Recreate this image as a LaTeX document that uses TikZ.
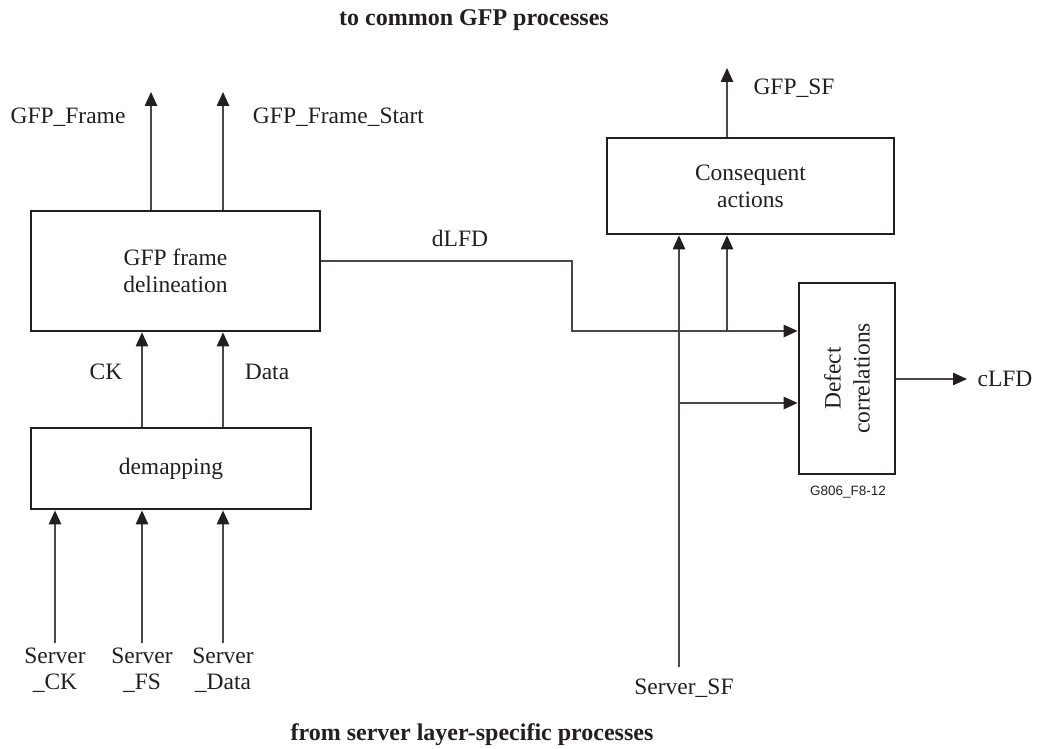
\documentclass[tikz,border=0pt]{standalone}
\usepackage{fontspec}
\setmainfont{Liberation Serif}
\newfontfamily\labelsans{Liberation Sans}
\usetikzlibrary{arrows.meta,calc}
\definecolor{ink}{RGB}{35,31,32}
\definecolor{wirec}{RGB}{75,70,70}
\begin{document}
\begin{tikzpicture}[x=1pt,y=-1pt,
  box/.style={draw=ink, line width=2.8pt, inner sep=0pt, align=center, text=ink, font=\fontsize{23.5}{27}\selectfont},
  lbl/.style={inner sep=0pt, align=center, text=ink, font=\fontsize{23.5}{26}\selectfont},
  ttl/.style={inner sep=0pt, text=ink, font=\fontsize{24}{28}\selectfont\bfseries},
  wire/.style={draw=wirec, line width=1.2pt},
  arr/.style={wire, -{Triangle[length=14pt,width=12.5pt,color=ink]}}]
\useasboundingbox (0,0) rectangle (1037,749);

% boxes
\node[box, minimum width=289pt, minimum height=120pt] (del) at (175.5,271) {GFP frame\\delineation};
\node[box, minimum width=280pt, minimum height=81pt] (dem) at (171,468.5) {demapping};
\node[box, minimum width=287pt, minimum height=96pt] (con) at (750.5,186) {Consequent\\actions};
\node[box, minimum width=96pt, minimum height=191pt] (def) at (847,378.5) {};
\node[lbl, rotate=90, font=\fontsize{23.5}{29}\selectfont] (deftxt) at (def.center) {Defect\\correlations};

% free ends and junctions
\coordinate (gfpf) at (151,92);
\coordinate (gfpfs) at (223,92);
\coordinate (sf) at (727,68);
\coordinate (clfd) at (967,379);
\coordinate (ckx) at (142,400);
\coordinate (datax) at (223,400);
\coordinate (sck) at (55,643);
\coordinate (sfs) at (142,643);
\coordinate (sdata) at (223,643);
\coordinate (ssf) at (679,667);
\coordinate (corner1) at (572,261);
\coordinate (corner2) at (572,331);
\coordinate (j1) at (727,331);
\coordinate (j2) at (679,403);

% connectors
\draw[arr] (del.north -| gfpf) -- (gfpf);
\draw[arr] (del.north -| gfpfs) -- (gfpfs);
\draw[arr] (dem.north -| ckx) -- (del.south -| ckx);
\draw[arr] (dem.north -| datax) -- (del.south -| datax);
\draw[arr] (sck) -- (dem.south -| sck);
\draw[arr] (sfs) -- (dem.south -| sfs);
\draw[arr] (sdata) -- (dem.south -| sdata);
\draw[arr] (del.east |- corner1) -- (corner1) -- (corner2) -- (def.west |- corner2);
\draw[arr] (j1) -- (con.south -| j1);
\draw[arr] (ssf) -- (con.south -| ssf);
\draw[arr] (j2) -- (def.west |- j2);
\draw[arr] (con.north -| sf) -- (sf);
\draw[arr] (def.east |- clfd) -- (clfd);

% labels
\node[lbl] (lgf) at (68,117) {GFP\_Frame};
\node[lbl] (lgfs) at (338.5,117) {GFP\_Frame\_Start};
\node[lbl] (lsf) at (794,88) {GFP\_SF};
\node[lbl] (ldlfd) at (460,238) {dLFD};
\node[lbl] (lck) at (106,372) {CK};
\node[lbl] (ldata) at (267,372) {Data};
\node[lbl] (lclfd) at (1005,379) {cLFD};
\node[lbl] (lsck) at (55,670) {Server\\\_CK};
\node[lbl] (lsfs) at (142,670) {Server\\\_FS};
\node[lbl] (lsdata) at (223,670) {Server\\\_Data};
\node[lbl] (lssf) at (684,688) {Server\_SF};
\node[ttl] (ttop) at (474,20) {to common GFP processes};
\node[ttl] (tbot) at (472,735) {from server layer-specific processes};
\node[inner sep=0pt, text=ink, font=\labelsans\fontsize{13.5}{15}\selectfont] (fig) at (848,492) {G806\_F8-12};
\end{tikzpicture}
\end{document}
